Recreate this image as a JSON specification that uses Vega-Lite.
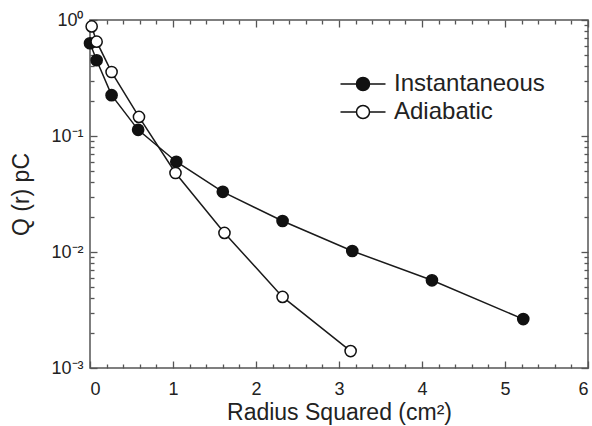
{
  "$schema": "https://vega.github.io/schema/vega-lite/v6.json",
  "autosize": "none",
  "width": 498,
  "height": 348,
  "padding": {"left": 90, "top": 20, "right": 4, "bottom": 58},
  "background": "white",
  "config": {
    "view": {"stroke": "#555", "strokeWidth": 1.5},
    "font": "Liberation Sans",
    "axis": {"grid": false, "tickColor": "#555", "tickWidth": 1.3, "labelColor": "#222", "titleColor": "#222", "labelFont": "Liberation Sans", "titleFont": "Liberation Sans", "labelFontSize": 18, "titleFontSize": 23, "titleFontWeight": "normal"}
  },
  "data": {"values": [
    {"series": "Instantaneous", "r2": 0.0, "q": 0.63},
    {"series": "Instantaneous", "r2": 0.08, "q": 0.45},
    {"series": "Instantaneous", "r2": 0.26, "q": 0.225},
    {"series": "Instantaneous", "r2": 0.58, "q": 0.113},
    {"series": "Instantaneous", "r2": 1.04, "q": 0.06},
    {"series": "Instantaneous", "r2": 1.6, "q": 0.033},
    {"series": "Instantaneous", "r2": 2.32, "q": 0.0185},
    {"series": "Instantaneous", "r2": 3.16, "q": 0.0102},
    {"series": "Instantaneous", "r2": 4.12, "q": 0.0057},
    {"series": "Instantaneous", "r2": 5.22, "q": 0.00264},
    {"series": "Adiabatic", "r2": 0.02, "q": 0.88},
    {"series": "Adiabatic", "r2": 0.08, "q": 0.65},
    {"series": "Adiabatic", "r2": 0.26, "q": 0.356},
    {"series": "Adiabatic", "r2": 0.59, "q": 0.146},
    {"series": "Adiabatic", "r2": 1.03, "q": 0.048},
    {"series": "Adiabatic", "r2": 1.62, "q": 0.0146},
    {"series": "Adiabatic", "r2": 2.32, "q": 0.0041},
    {"series": "Adiabatic", "r2": 3.14, "q": 0.0014}
  ]},
  "resolve": {"axis": {"x": "independent", "y": "independent"}},
  "layer": [
    {
      "mark": {"type": "line", "color": "#1a1a1a", "strokeWidth": 1.5},
      "encoding": {
        "x": {"field": "r2", "type": "quantitative", "scale": {"domain": [0, 6], "nice": false, "zero": false},
          "axis": {"orient": "bottom", "values": [0, 1, 2, 3, 4, 5, 6], "ticks": false, "domain": false, "labelPadding": 12, "title": "Radius Squared (cm²)", "titlePadding": 3}},
        "y": {"field": "q", "type": "quantitative", "scale": {"type": "log", "domain": [0.001, 1], "nice": false},
          "axis": {"orient": "left", "values": [1, 0.1, 0.01, 0.001], "ticks": false, "domain": false, "labelPadding": 7,
            "labelExpr": "datum.value > 0.5 ? '10⁰' : datum.value > 0.05 ? '10⁻¹' : datum.value > 0.005 ? '10⁻²' : '10⁻³'",
            "title": "Q (r) pC", "titlePadding": 17}},
        "detail": {"field": "series"}
      }
    },
    {
      "mark": {"type": "point", "filled": true, "stroke": "#111", "strokeWidth": 1.5, "size": 125, "opacity": 1},
      "encoding": {
        "x": {"field": "r2", "type": "quantitative", "axis": {"orient": "top", "values": [0, 1, 2, 3, 4, 5, 6], "labels": false, "domain": false, "tickSize": 7, "offset": -7, "title": null}},
        "y": {"field": "q", "type": "quantitative", "axis": {"orient": "right", "values": [1, 0.1, 0.01, 0.001], "labels": false, "domain": false, "tickSize": 7, "offset": -7, "title": null}},
        "fill": {"field": "series", "type": "nominal", "scale": {"domain": ["Instantaneous", "Adiabatic"], "range": ["#111", "white"]},
          "legend": {"orient": "none", "legendX": 261, "legendY": 52, "title": null, "padding": 0,
            "symbolType": "M-3,0H-0.87M0.87,0H3M-0.87,0A0.87,0.87,0,1,0,0.87,0A0.87,0.87,0,1,0,-0.87,0Z",
            "symbolSize": 225, "symbolStrokeColor": "#111", "symbolStrokeWidth": 1.5, "labelOffset": 19, "rowPadding": 4,
            "labelFontSize": 24, "labelColor": "#222", "labelFont": "Liberation Sans"}}
      }
    },
    {
      "mark": {"type": "point", "opacity": 0},
      "encoding": {
        "x": {"field": "r2", "type": "quantitative", "axis": {"orient": "bottom", "values": [0, 1, 2, 3, 4, 5, 6], "labels": false, "domain": false, "tickSize": 7, "offset": -7, "title": null}},
        "y": {"field": "q", "type": "quantitative", "axis": {"orient": "left", "values": [1, 0.1, 0.01, 0.001], "labels": false, "domain": false, "tickSize": 7, "offset": -7, "title": null}}
      }
    },
    {
      "mark": {"type": "point", "opacity": 0},
      "encoding": {
        "x": {"field": "r2", "type": "quantitative", "axis": {"orient": "bottom", "values": [0.2, 0.4, 0.6, 0.8, 1.2, 1.4, 1.6, 1.8, 2.2, 2.4, 2.6, 2.8, 3.2, 3.4, 3.6, 3.8, 4.2, 4.4, 4.6, 4.8, 5.2, 5.4, 5.6, 5.8], "labels": false, "domain": false, "tickSize": 4, "offset": -4, "title": null}},
        "y": {"field": "q", "type": "quantitative", "axis": {"orient": "left", "values": [0.002, 0.003, 0.004, 0.005, 0.006, 0.007, 0.008, 0.009, 0.02, 0.03, 0.04, 0.05, 0.06, 0.07, 0.08, 0.09, 0.2, 0.3, 0.4, 0.5, 0.6, 0.7, 0.8, 0.9], "labels": false, "domain": false, "tickSize": 4, "offset": -4, "title": null}}
      }
    },
    {
      "mark": {"type": "point", "opacity": 0},
      "encoding": {
        "x": {"field": "r2", "type": "quantitative", "axis": {"orient": "top", "values": [0.2, 0.4, 0.6, 0.8, 1.2, 1.4, 1.6, 1.8, 2.2, 2.4, 2.6, 2.8, 3.2, 3.4, 3.6, 3.8, 4.2, 4.4, 4.6, 4.8, 5.2, 5.4, 5.6, 5.8], "labels": false, "domain": false, "tickSize": 4, "offset": -4, "title": null}},
        "y": {"field": "q", "type": "quantitative", "axis": {"orient": "right", "values": [0.002, 0.003, 0.004, 0.005, 0.006, 0.007, 0.008, 0.009, 0.02, 0.03, 0.04, 0.05, 0.06, 0.07, 0.08, 0.09, 0.2, 0.3, 0.4, 0.5, 0.6, 0.7, 0.8, 0.9], "labels": false, "domain": false, "tickSize": 4, "offset": -4, "title": null}}
      }
    }
  ]
}
